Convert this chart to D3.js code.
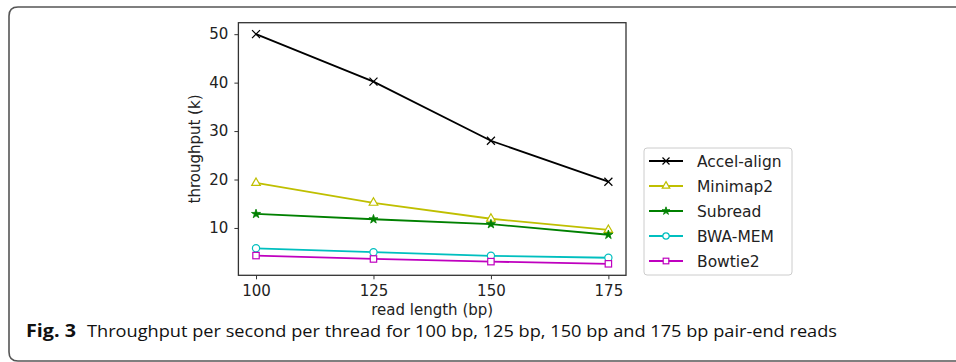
<!DOCTYPE html>
<html>
<head>
<meta charset="utf-8">
<script src="https://cdn.jsdelivr.net/npm/d3@7"></script>
<style>
  body { margin: 0; background: #fff; }
  svg { display: block; }
</style>
</head>
<body>
<div id="chart"></div>
<script>
// data
var readLengths = [100, 125, 150, 175];
var seriesNames = ["Accel-align", "Minimap2", "Subread", "BWA-MEM", "Bowtie2"];
var accelAlign = [50.0, 40.2, 28.0, 19.55];
var minimap2 = [19.3, 15.2, 11.9, 9.6];
var subread = [12.9, 11.8, 10.8, 8.6];
var bwaMem = [5.8, 5.0, 4.25, 3.85];
var bowtie2 = [4.3, 3.6, 3.05, 2.6];
var xTicks = [100, 125, 150, 175];
var yTicks = [10, 20, 30, 40, 50];

var colors = ["#000000", "#bfbf00", "#008000", "#00bfbf", "#bf00bf"];
var markers = ["x", "triangle", "star", "circle", "square"];
var values = [accelAlign, minimap2, subread, bwaMem, bowtie2];

var series = seriesNames.map(function(name, i) {
  return {
    name: name,
    color: colors[i],
    marker: markers[i],
    points: readLengths.map(function(x, j) { return {x: x, y: values[i][j]}; })
  };
});

var w = 956, h = 362;
var plot = {left: 238.4, right: 626, top: 22.7, bottom: 275.3};

var svg = d3.select("#chart").append("svg")
  .attr("width", w)
  .attr("height", h);

// outer figure frame (rounded left corners)
svg.append("path")
  .attr("d", "M956,7 L18,7 Q9,7 9,16 L9,352 Q9,361 18,361 L956,361")
  .attr("fill", "none")
  .attr("stroke", "#555")
  .attr("stroke-width", 1.6);

// scales with matplotlib-like 5% margins
var xExt = d3.extent(readLengths);
var xPad = (xExt[1] - xExt[0]) * 0.05;
var allY = [].concat.apply([], values);
var yExt = d3.extent(allY);
var yPad = (yExt[1] - yExt[0]) * 0.05;

var xScale = d3.scaleLinear()
  .domain([xExt[0] - xPad, xExt[1] + xPad])
  .range([plot.left, plot.right]);

var yScale = d3.scaleLinear()
  .domain([yExt[0] - yPad, yExt[1] + yPad])
  .range([plot.bottom, plot.top]);

var tickFont = "DejaVu Sans, sans-serif";

// axes
var xAxis = d3.axisBottom(xScale).tickValues(xTicks).tickSize(4).tickPadding(6)
  .tickFormat(d3.format("d"));
var yAxis = d3.axisLeft(yScale).tickValues(yTicks).tickSize(4).tickPadding(6)
  .tickFormat(d3.format("d"));

var gx = svg.append("g")
  .attr("transform", "translate(0," + plot.bottom + ")")
  .call(xAxis);
var gy = svg.append("g")
  .attr("transform", "translate(" + plot.left + ",0)")
  .call(yAxis);

[gx, gy].forEach(function(g) {
  g.select(".domain").remove();
  g.selectAll("line").attr("stroke", "#333").attr("stroke-width", 1);
  g.selectAll("text").attr("font-family", tickFont).attr("font-size", 15).attr("fill", "#222");
});

// plot frame
svg.append("rect")
  .attr("x", plot.left)
  .attr("y", plot.top)
  .attr("width", plot.right - plot.left)
  .attr("height", plot.bottom - plot.top)
  .attr("fill", "none")
  .attr("stroke", "#333")
  .attr("stroke-width", 1.3);

// axis labels
svg.append("text")
  .attr("x", (plot.left + plot.right) / 2)
  .attr("y", 315)
  .attr("text-anchor", "middle")
  .attr("font-family", tickFont)
  .attr("font-size", 15)
  .attr("fill", "#222")
  .text("read length (bp)");

svg.append("text")
  .attr("text-anchor", "middle")
  .attr("transform", "translate(200," + ((plot.top + plot.bottom) / 2) + ")rotate(-90)")
  .attr("font-family", tickFont)
  .attr("font-size", 15)
  .attr("fill", "#222")
  .text("throughput (k)");

// marker drawing
function drawMarker(g, type, color, size) {
  var s = size / 2;
  if (type === "x") {
    g.append("path")
      .attr("d", "M" + (-s) + "," + (-s) + "L" + s + "," + s + "M" + (-s) + "," + s + "L" + s + "," + (-s))
      .attr("stroke", color).attr("stroke-width", 1.2).attr("fill", "none");
  } else if (type === "triangle") {
    g.append("path")
      .attr("d", d3.symbol().type(d3.symbolTriangle).size(size * size * 0.5)())
      .attr("stroke", color).attr("stroke-width", 1.2).attr("fill", "#fff");
  } else if (type === "star") {
    g.append("path")
      .attr("d", d3.symbol().type(d3.symbolStar).size(size * size * 0.4)())
      .attr("stroke", color).attr("stroke-width", 0.8).attr("fill", color);
  } else if (type === "circle") {
    g.append("circle")
      .attr("r", s * 0.9)
      .attr("stroke", color).attr("stroke-width", 1.2).attr("fill", "#fff");
  } else if (type === "square") {
    g.append("rect")
      .attr("x", -s * 0.8).attr("y", -s * 0.8)
      .attr("width", s * 1.6).attr("height", s * 1.6)
      .attr("stroke", color).attr("stroke-width", 1.2).attr("fill", "#fff");
  }
}

var line = d3.line()
  .x(function(d) { return xScale(d.x); })
  .y(function(d) { return yScale(d.y); });

series.forEach(function(s) {
  svg.append("path")
    .datum(s.points)
    .attr("d", line)
    .attr("fill", "none")
    .attr("stroke", s.color)
    .attr("stroke-width", 1.8);
});

series.forEach(function(s) {
  s.points.forEach(function(p) {
    var g = svg.append("g")
      .attr("transform", "translate(" + xScale(p.x) + "," + yScale(p.y) + ")");
    drawMarker(g, s.marker, s.color, 8);
  });
});

// legend
var legend = svg.append("g").attr("transform", "translate(644,148)");
legend.append("rect")
  .attr("width", 148)
  .attr("height", 127)
  .attr("rx", 3)
  .attr("fill", "#fff")
  .attr("stroke", "#ccc")
  .attr("stroke-width", 1);

series.forEach(function(s, i) {
  var row = legend.append("g").attr("transform", "translate(0," + (13 + i * 25) + ")");
  row.append("line")
    .attr("x1", 5).attr("x2", 39)
    .attr("stroke", s.color).attr("stroke-width", 1.8);
  drawMarker(row.append("g").attr("transform", "translate(22,0)"), s.marker, s.color, 7);
  row.append("text")
    .attr("x", 53)
    .attr("dy", "0.36em")
    .attr("font-family", tickFont)
    .attr("font-size", 15.5)
    .attr("fill", "#222")
    .text(s.name);
});

// caption
var capFont = "'Open Sans', 'Noto Sans', sans-serif";
svg.append("text")
  .attr("x", 26)
  .attr("y", 337)
  .attr("font-family", capFont)
  .attr("font-weight", "bold")
  .attr("font-size", 17)
  .attr("textLength", 50)
  .attr("lengthAdjust", "spacingAndGlyphs")
  .attr("fill", "#111")
  .text("Fig. 3");

svg.append("text")
  .attr("x", 87)
  .attr("y", 337)
  .attr("font-family", capFont)
  .attr("font-size", 17)
  .attr("textLength", 750)
  .attr("lengthAdjust", "spacingAndGlyphs")
  .attr("fill", "#111")
  .text("Throughput per second per thread for 100 bp, 125 bp, 150 bp and 175 bp pair-end reads");
</script>
</body>
</html>
